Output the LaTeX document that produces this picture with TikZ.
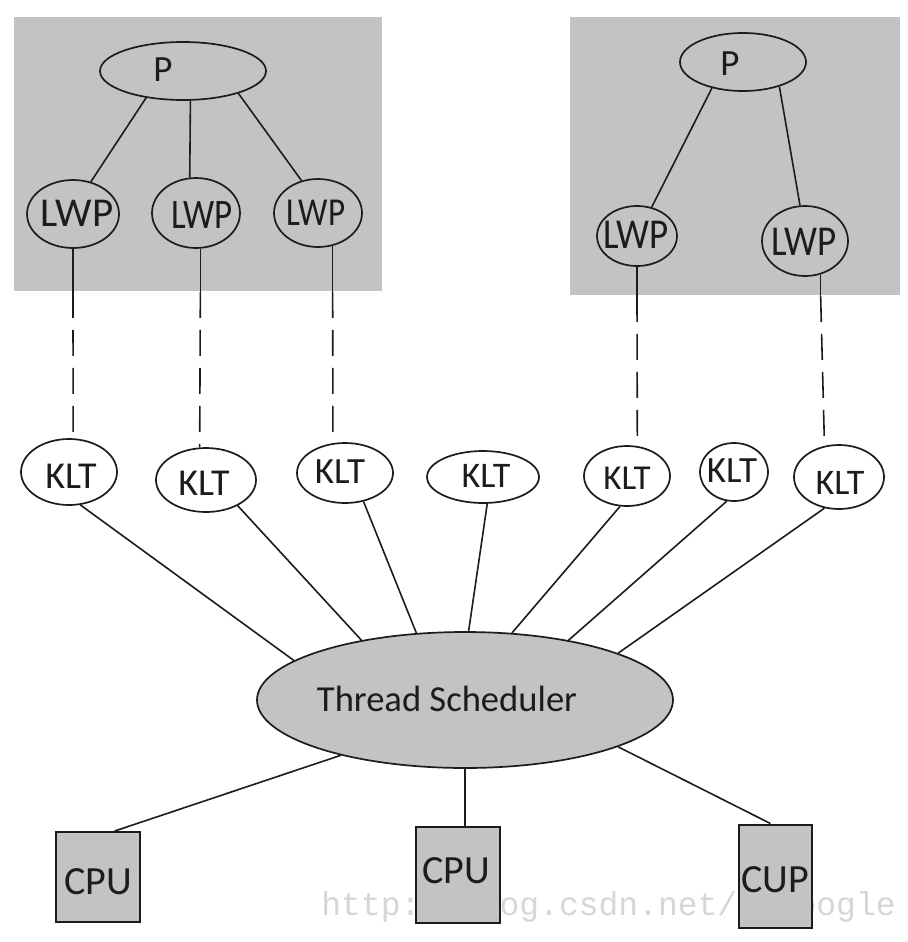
\documentclass[tikz,border=0pt]{standalone}
\usepackage{fontspec}
\setmainfont{Carlito}
\newfontfamily\wmfont{Liberation Mono}
\usetikzlibrary{shapes.geometric}
\definecolor{panel}{RGB}{195,195,195}
\definecolor{ink}{RGB}{28,28,28}
\definecolor{wmgray}{RGB}{214,214,214}

\begin{document}
\begin{tikzpicture}[x=0.5pt,y=-0.5pt,
  panelbox/.style={rectangle, fill=panel, draw=none, inner sep=0pt, anchor=north west},
  oval/.style={ellipse, draw=ink, line width=0.85pt, inner sep=0pt},
  cpubox/.style={rectangle, draw=ink, line width=1pt, fill=panel, inner sep=0pt},
  txt/.style={inner sep=0pt, text=ink},
  link/.style={draw=ink, line width=0.8pt},
  dlink/.style={link, dash pattern=on 13pt off 6pt}]

% canvas
\fill[white] (0,0) rectangle (908,942);
\useasboundingbox (0,0) rectangle (908,942);

% process panels
\node[panelbox, minimum width=184pt, minimum height=137pt] (gl) at (14,17) {};
\node[panelbox, minimum width=165pt, minimum height=139pt] (gr) at (570,17) {};

% watermark
\node[inner sep=0pt, anchor=base west, text=wmgray, font=\wmfont\fontsize{16.5}{18}\selectfont] (wm) at (321,915) {http://blog.csdn.net/aigoogle};

% processes
\node[oval, minimum width=83pt, minimum height=29pt] (p1) at (183,71) {};
\node[oval, minimum width=63pt, minimum height=29pt] (p2) at (743,62) {};

% light-weight processes
\node[oval, minimum width=46pt, minimum height=34pt] (l1) at (73,214) {};
\node[oval, minimum width=44pt, minimum height=35pt] (l2) at (196,213) {};
\node[oval, minimum width=44pt, minimum height=34pt] (l3) at (318,213) {};
\node[oval, minimum width=40pt, minimum height=30pt] (l4) at (637,236) {};
\node[oval, minimum width=43pt, minimum height=35pt] (l5) at (805,241) {};

% kernel-level threads
\node[oval, fill=white, minimum width=48pt, minimum height=33pt] (k1) at (69,472) {};
\node[oval, fill=white, minimum width=50pt, minimum height=32pt] (k2) at (206,480) {};
\node[oval, fill=white, minimum width=48pt, minimum height=30pt] (k3) at (345,473) {};
\node[oval, fill=white, minimum width=56pt, minimum height=26pt] (k4) at (483,477) {};
\node[oval, fill=white, minimum width=43pt, minimum height=30pt] (k5) at (627,476) {};
\node[oval, fill=white, minimum width=34pt, minimum height=29pt] (k6) at (734,472) {};
\node[oval, fill=white, minimum width=45pt, minimum height=32pt] (k7) at (839,477) {};

% scheduler
\node[oval, fill=panel, minimum width=208pt, minimum height=68pt] (ts) at (465,700) {};

% processors
\node[cpubox, minimum width=42pt, minimum height=45pt] (c1) at (98,877) {};
\node[cpubox, minimum width=42pt, minimum height=48pt] (c2) at (458,875) {};
\node[cpubox, minimum width=36.5pt, minimum height=51.5pt] (c3) at (775,876) {};

% labels
\node[txt, font=\fontsize{18.5}{22}\selectfont] (tp1) at (163,70) {P};
\node[txt, font=\fontsize{18.5}{22}\selectfont] (tp2) at (730,64) {P};
\node[txt, font=\fontsize{20.5}{24}\selectfont] (tl1) at (77,213) {LWP};
\node[txt, font=\fontsize{17.5}{20}\selectfont, yscale=1.2] (tl2) at (202,215) {LWP};
\node[txt, font=\fontsize{16.5}{20}\selectfont, yscale=1.2] (tl3) at (316,213) {LWP};
\node[txt, font=\fontsize{18.5}{22}\selectfont, yscale=1.15] (tl4) at (636,235) {LWP};
\node[txt, font=\fontsize{18.5}{22}\selectfont, yscale=1.15] (tl5) at (804,242) {LWP};
\node[txt, font=\fontsize{19}{22}\selectfont] (tk1) at (71,476) {KLT};
\node[txt, font=\fontsize{19}{22}\selectfont] (tk2) at (204,483) {KLT};
\node[txt, font=\fontsize{18.5}{22}\selectfont] (tk3) at (340,472) {KLT};
\node[txt, font=\fontsize{18}{22}\selectfont] (tk4) at (486,476) {KLT};
\node[txt, font=\fontsize{17.5}{22}\selectfont] (tk5) at (627,478) {KLT};
\node[txt, font=\fontsize{18.5}{22}\selectfont] (tk6) at (732,471) {KLT};
\node[txt, font=\fontsize{18}{22}\selectfont] (tk7) at (840,483) {KLT};
\node[txt, font=\fontsize{18.3}{22}\selectfont] (tts) at (447,699) {Thread Scheduler};
\node[txt, font=\fontsize{20}{24}\selectfont] (tc1) at (98,882) {CPU};
\node[txt, font=\fontsize{20}{24}\selectfont] (tc2) at (456,871) {CPU};
\node[txt, font=\fontsize{20}{24}\selectfont] (tc3) at (775,880) {CUP};

% process -> LWP
\draw[link] (p1.216) -- (l1.61);
\draw[link] (p1.-76) -- (l2.100);
\draw[link] (p1.-22) -- (l3.117);
\draw[link] (p2.220) -- (l4.63);
\draw[link] (p2.-34) -- (l5.98);

% LWP -> KLT: solid inside the panel, dashed outside
\draw[link] (l1.south) -- (l1.south |- gl.south);
\draw[dlink] (l1.south |- gl.south) -- (k1.83);
\draw[link] (l2.-83) -- (l2.-83 |- gl.south);
\draw[dlink] (l2.-83 |- gl.south) -- (k2.101);
\draw[link] (l3.-66) -- (l3.-66 |- gl.south);
\draw[dlink] (l3.-66 |- gl.south) -- (k3.112);
\draw[link] (l4.south) -- (l4.south |- gr.south);
\draw[dlink] (l4.south |- gr.south) -- (k5.71);
\draw[link] (l5.-65) -- (l5.-65 |- gr.south);
\draw[dlink] (l5.-65 |- gr.south) -- (k7.115);

% KLT -> scheduler
\draw[link] (k1.-71) -- (ts.167);
\draw[link] (k2.-39) -- (ts.150);
\draw[link] (k3.-57) -- (ts.126);
\draw[link] (k4.-81) -- (ts.87);
\draw[link] (k5.-103) -- (ts.55);
\draw[link] (k6.-104) -- (ts.30);
\draw[link] (k7.-115) -- (ts.17);

% scheduler -> processors
\draw[link] (ts.204) -- (c1.70);
\draw[link] (ts.south) -- (ts.south |- c2.north);
\draw[link] (ts.-17) -- (c3.95);
\end{tikzpicture}
\end{document}
